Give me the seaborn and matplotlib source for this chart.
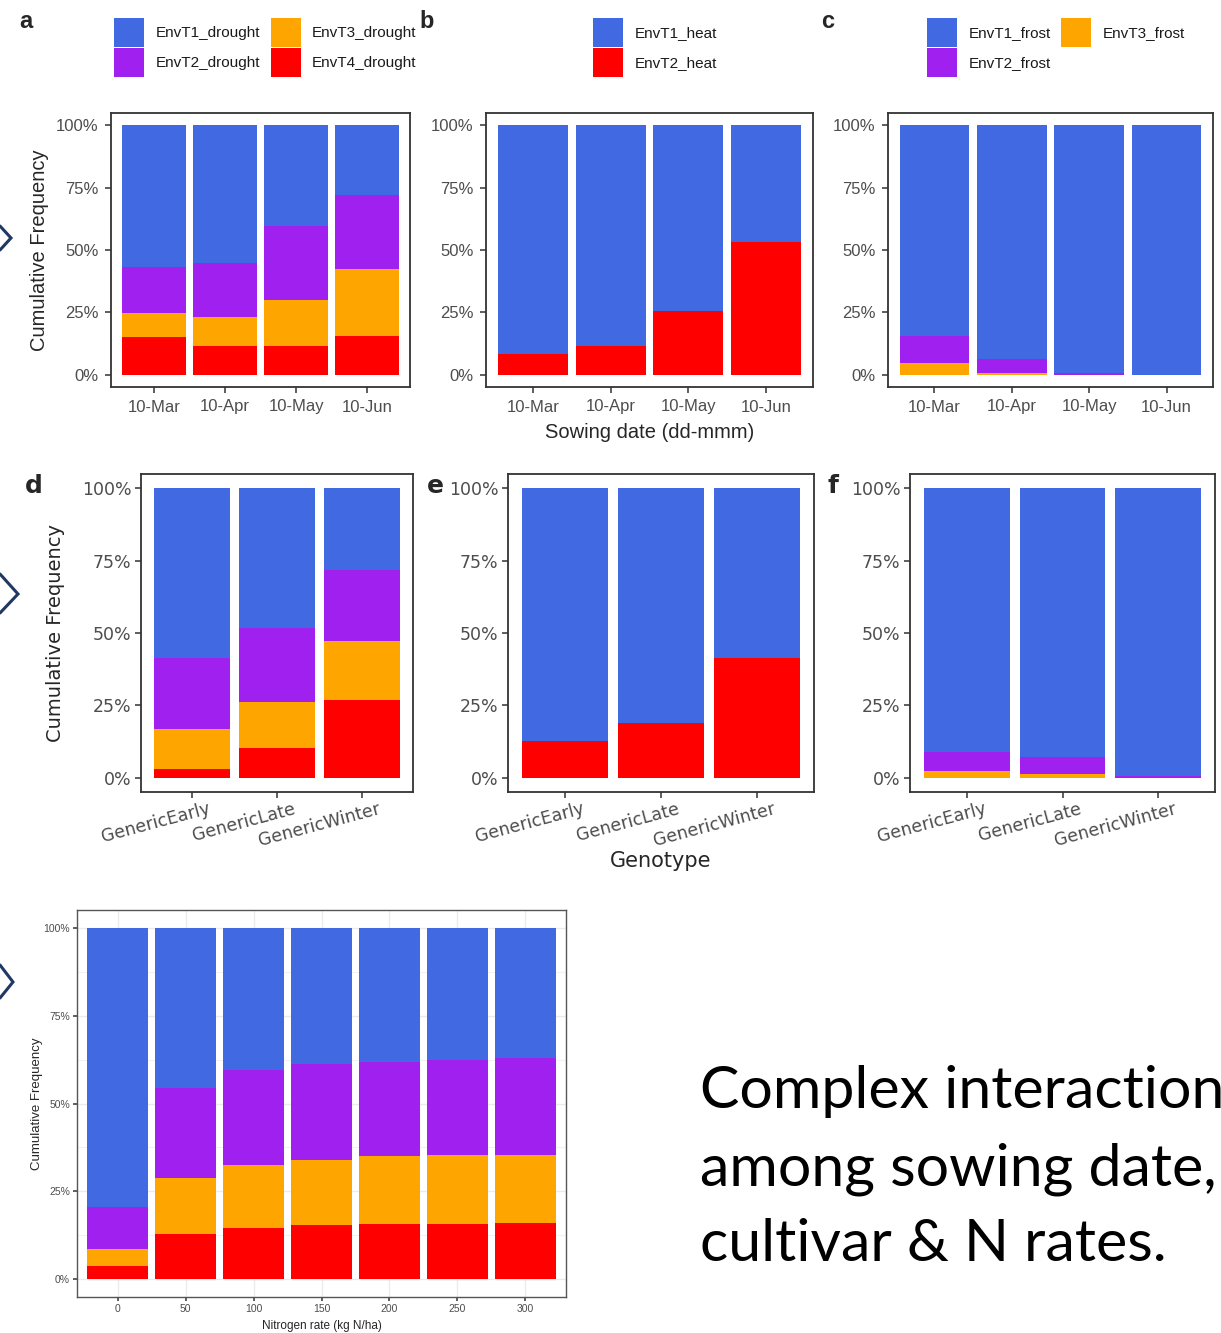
import numpy as np
import pandas as pd
import matplotlib
matplotlib.use("Agg")
import matplotlib.pyplot as plt
import seaborn as sns
from matplotlib.ticker import PercentFormatter, MultipleLocator
from matplotlib.patches import Patch
from matplotlib.lines import Line2D
from matplotlib.transforms import ScaledTranslation

# ---------------- data (percent of seasons) ----------------
sowing_dates = ["10-Mar", "10-Apr", "10-May", "10-Jun"]
genotypes = ["GenericEarly", "GenericLate", "GenericWinter"]
n_rates = [0, 50, 100, 150, 200, 250, 300]

drought_labels = ["EnvT1_drought", "EnvT2_drought", "EnvT3_drought", "EnvT4_drought"]
heat_labels = ["EnvT1_heat", "EnvT2_heat"]
frost_labels = ["EnvT1_frost", "EnvT2_frost", "EnvT3_frost"]

# a: drought by sowing date
drought_T1_sow = [57.0, 55.4, 40.4, 27.9]
drought_T2_sow = [18.3, 21.6, 29.8, 29.7]
drought_T3_sow = [9.8, 11.5, 18.3, 26.8]
drought_T4_sow = [14.9, 11.5, 11.5, 15.6]
# b: heat by sowing date
heat_T1_sow = [91.8, 88.5, 74.6, 46.7]
heat_T2_sow = [8.2, 11.5, 25.4, 53.3]
# c: frost by sowing date
frost_T1_sow = [84.4, 93.6, 99.5, 100.0]
frost_T2_sow = [10.9, 5.7, 0.5, 0.0]
frost_T3_sow = [4.7, 0.7, 0.0, 0.0]
# d: drought by genotype
drought_T1_gen = [58.7, 48.4, 28.3]
drought_T2_gen = [24.6, 25.5, 24.4]
drought_T3_gen = [13.6, 15.8, 20.4]
drought_T4_gen = [3.1, 10.3, 26.9]
# e: heat by genotype
heat_T1_gen = [87.2, 81.2, 58.7]
heat_T2_gen = [12.8, 18.8, 41.3]
# f: frost by genotype
frost_T1_gen = [91.1, 92.8, 99.5]
frost_T2_gen = [6.8, 5.9, 0.5]
frost_T3_gen = [2.1, 1.3, 0.0]
# bottom: drought by nitrogen rate
drought_T1_n = [79.5, 45.7, 40.5, 38.8, 38.2, 37.6, 37.1]
drought_T2_n = [11.9, 25.5, 27.1, 27.2, 26.8, 27.1, 27.4]
drought_T3_n = [4.9, 15.9, 17.8, 18.6, 19.3, 19.5, 19.5]
drought_T4_n = [3.7, 12.9, 14.6, 15.4, 15.7, 15.8, 16.0]

BLUE, PURPLE, ORANGE, RED = "#4169E1", "#A020F0", "#FFA500", "#FF0000"
drought_colors = [BLUE, PURPLE, ORANGE, RED]
heat_colors = [BLUE, RED]
frost_colors = [BLUE, PURPLE, ORANGE]

# ---------------- style ----------------
sns.set_style("ticks")
plt.rcParams["font.family"] = ["Liberation Sans", "DejaVu Sans"]
TICK_COL = "#4D4D4D"
SPINE_COL = "#333333"

W, H = 1221, 1333
fig = plt.figure(figsize=(W / 100, H / 100), dpi=100)


def box(l, t, r, b):
    return [l / W, 1 - b / H, (r - l) / W, (b - t) / H]


def long_df(cats, labels, series):
    rows = []
    for lab, vals in zip(labels, series):
        for c, v in zip(cats, vals):
            rows.append((c, lab, v))
    return pd.DataFrame(rows, columns=["x", "env", "pct"])


def stacked(rect, cats, labels, series, colors, numeric=False, tick_size=12,
            family=None, pad=3):
    ax = fig.add_axes(box(*rect))
    df = long_df(cats, labels, series)
    pal = dict(zip(labels, colors))
    if numeric:
        step = cats[1] - cats[0]
        sns.histplot(data=df, x="x", hue="env", weights="pct", hue_order=labels,
                     palette=pal, multiple="stack", binwidth=step,
                     binrange=(cats[0] - step / 2, cats[-1] + step / 2),
                     shrink=0.9, linewidth=0, alpha=1, legend=False, ax=ax)
    else:
        df["x"] = pd.Categorical(df["x"], categories=cats, ordered=True)
        sns.histplot(data=df, x="x", hue="env", weights="pct", hue_order=labels,
                     palette=pal, multiple="stack", discrete=True,
                     shrink=0.9, linewidth=0, alpha=1, legend=False, ax=ax)
        ax.set_xlim(-0.6, len(cats) - 0.4)
    ax.set_ylim(-5, 105)
    ax.yaxis.set_major_locator(MultipleLocator(25))
    ax.yaxis.set_major_formatter(PercentFormatter(xmax=100, decimals=0))
    ax.set_xlabel("")
    ax.set_ylabel("")
    for s in ax.spines.values():
        s.set_visible(True)
        s.set_color(SPINE_COL)
        s.set_linewidth(1.3)
    ax.tick_params(axis="both", colors=SPINE_COL, labelcolor=TICK_COL,
                   labelsize=tick_size, length=4, width=1.1, pad=pad)
    if family:
        for lab in ax.get_xticklabels() + ax.get_yticklabels():
            lab.set_family(family)
    return ax


def legend(labels, colors, x, y, ncol=2):
    handles = [Patch(facecolor=c, edgecolor="none") for c in colors]
    fig.legend(handles, labels, loc="upper left", bbox_to_anchor=(x / W, 1 - y / H),
               ncol=ncol, frameon=False, fontsize=11, handlelength=1.96,
               handleheight=2.5, handletextpad=0.75, columnspacing=0.7,
               labelspacing=0.12, borderpad=0, borderaxespad=0,
               labelcolor="#1A1A1A")


# ---------------- row 1: sowing date ----------------
ax_a = stacked((111, 113, 410, 387), sowing_dates, drought_labels,
               [drought_T1_sow, drought_T2_sow, drought_T3_sow, drought_T4_sow],
               drought_colors, pad=5)
ax_a.set_ylabel("Cumulative Frequency", fontsize=14.5, labelpad=5)

ax_b = stacked((486, 113, 813, 387), sowing_dates, heat_labels,
               [heat_T1_sow, heat_T2_sow], heat_colors, pad=5)
ax_b.set_xlabel("Sowing date (dd-mmm)", fontsize=14.5, labelpad=6)

ax_c = stacked((888, 113, 1213, 387), sowing_dates, frost_labels,
               [frost_T1_sow, frost_T2_sow, frost_T3_sow], frost_colors, pad=5)

legend(drought_labels, drought_colors, 114, 18)
legend(heat_labels, heat_colors, 593, 18, ncol=1)
legend(frost_labels, frost_colors, 927, 18)

for lx, txt in [(19, "a"), (419, "b"), (821, "c")]:
    fig.text(lx / W, 1 - 28 / H, txt, fontsize=17, fontweight="bold", va="baseline")

# ---------------- row 2: genotype ----------------
gen_axes = []
for rect, labels, series, colors in [
    ((141, 474, 413, 792), drought_labels,
     [drought_T1_gen, drought_T2_gen, drought_T3_gen, drought_T4_gen], drought_colors),
    ((508, 474, 814, 792), heat_labels, [heat_T1_gen, heat_T2_gen], heat_colors),
    ((910, 474, 1215, 792), frost_labels,
     [frost_T1_gen, frost_T2_gen, frost_T3_gen], frost_colors),
]:
    ax = stacked(rect, genotypes, labels, series, colors, tick_size=12.5,
                 family="DejaVu Sans")
    for lab in ax.get_xticklabels():
        lab.set_rotation(15)
        lab.set_ha("right")
        lab.set_va("top")
        lab.set_rotation_mode("anchor")
        lab.set_transform(lab.get_transform() + ScaledTranslation(0.16, 0.02, fig.dpi_scale_trans))
    gen_axes.append(ax)

gen_axes[0].set_ylabel("Cumulative Frequency", fontsize=14, labelpad=12,
                       family="DejaVu Sans")
gen_axes[1].set_xlabel("Genotype", fontsize=15, labelpad=1, family="DejaVu Sans")

for lx, txt in [(25, "d"), (427, "e"), (828, "f")]:
    fig.text(lx / W, 1 - 493 / H, txt, fontsize=18, fontweight="bold",
             va="baseline", family="DejaVu Sans")

# ---------------- row 3: nitrogen rate ----------------
ax_n = stacked((77, 910, 566, 1297), n_rates, drought_labels,
               [drought_T1_n, drought_T2_n, drought_T3_n, drought_T4_n],
               drought_colors, numeric=True, tick_size=7.5)
ax_n.set_xlim(-30, 330)
ax_n.set_xticks(n_rates)
ax_n.yaxis.set_minor_locator(MultipleLocator(12.5))
ax_n.xaxis.set_minor_locator(MultipleLocator(25))
ax_n.set_axisbelow(True)
ax_n.grid(True, which="major", color="#EBEBEB", linewidth=1.0)
ax_n.grid(True, which="minor", axis="y", color="#F2F2F2", linewidth=0.8)
ax_n.tick_params(which="minor", length=0)
ax_n.tick_params(axis="both", length=3, pad=2)
for s in ax_n.spines.values():
    s.set_color("#555555")
    s.set_linewidth(1.0)
ax_n.set_ylabel("Cumulative Frequency", fontsize=9.5, labelpad=0)
ax_n.set_xlabel("Nitrogen rate (kg N/ha)", fontsize=8.5, labelpad=4)

# ---------------- annotation text ----------------
for yb, line in [(1108, "Complex interaction"), (1185, "among sowing date,"),
                 (1261, "cultivar & N rates.")]:
    fig.text(700 / W, 1 - yb / H, line, fontsize=42.5, family="Lato",
             va="baseline", ha="left", color="black")

# ---------------- slide chevrons at left edge ----------------
ARROW = "#1F3864"
for pts in [[(0, 226), (11, 238), (0, 250)],
            [(0, 574), (18, 594), (0, 613)],
            [(0, 965), (13, 982), (0, 998)]]:
    xs = [p[0] / W for p in pts]
    ys = [1 - p[1] / H for p in pts]
    fig.add_artist(Line2D(xs, ys, transform=fig.transFigure, color=ARROW,
                          linewidth=2.2, solid_joinstyle="miter"))

fig.savefig("out.png", dpi=100, facecolor="white")
